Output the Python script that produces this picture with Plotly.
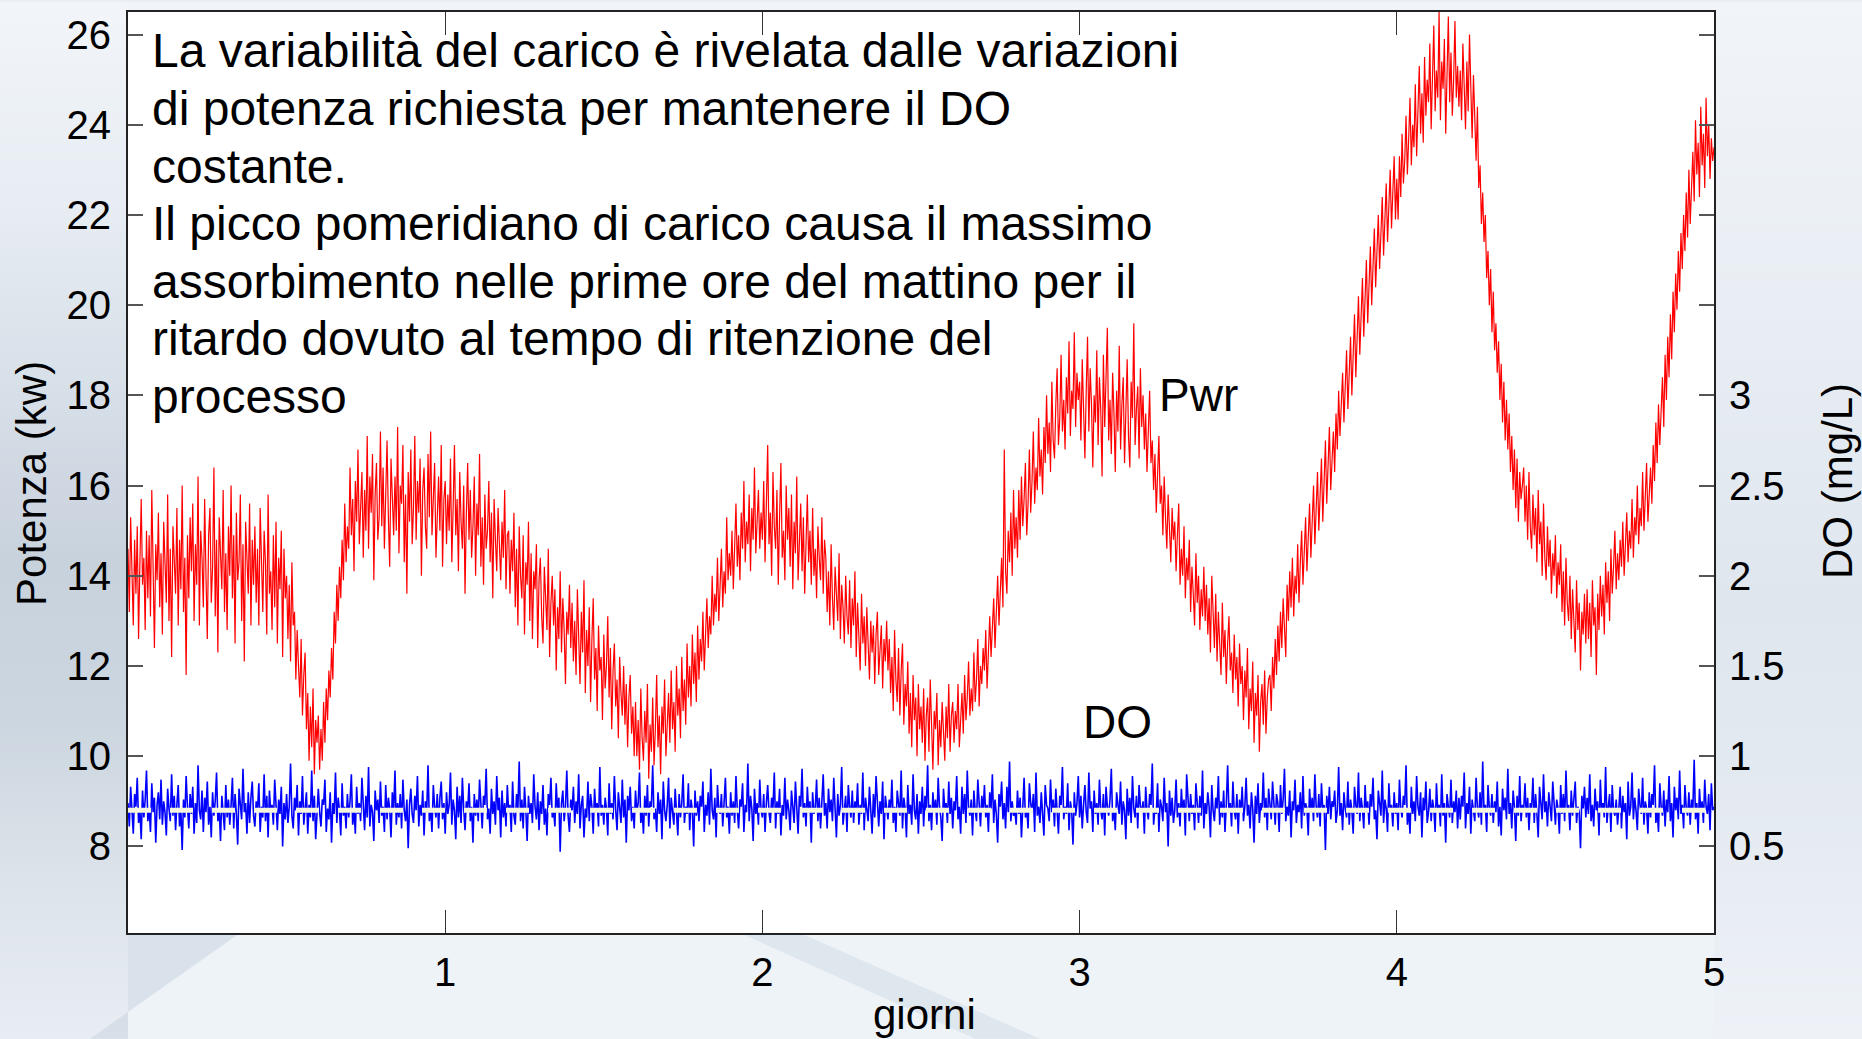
import numpy as np
import plotly.graph_objects as go

# ---------------------------------------------------------------------------
# Data: blower power (kW) and dissolved oxygen (mg/L), 240 samples per day
# ---------------------------------------------------------------------------
SAMPLES_PER_DAY = 240

power_kw = [
    14.6, 13.2, 15.3, 14.1, 12.9, 14.8, 13.6, 15.1, 12.6, 14.3, 15.7, 13.8, 14.4, 12.8, 15.0, 13.5, 14.9, 13.1, 15.9, 14.2, 12.4, 14.7, 13.9, 15.4,
    13.3, 14.5, 12.7, 15.2, 14.0, 13.4, 15.8, 13.0, 14.6, 12.2, 15.1, 14.3, 13.6, 15.5, 12.9, 14.8, 13.7, 16.0, 13.2, 14.4, 11.8, 14.9, 13.5, 15.3,
    14.1, 15.6, 13.0, 14.7, 13.8, 16.2, 12.9, 15.0, 14.4, 13.3, 15.7, 14.0, 12.6, 14.9, 15.5, 13.4, 14.2, 16.4, 13.1, 14.8, 12.3, 15.3, 14.6, 13.7,
    15.9, 13.2, 14.5, 12.8, 15.1, 14.0, 16.0, 13.5, 14.9, 12.5, 15.4, 13.9, 14.3, 15.8, 13.0, 14.7, 12.1, 15.2, 14.4, 13.6, 15.6, 12.9, 14.8, 13.8,
    15.1, 13.4, 14.6, 12.9, 15.5, 14.0, 13.2, 15.0, 14.3, 12.7, 15.8, 13.6, 14.1, 12.8, 14.9, 13.3, 15.2, 12.5, 14.4, 13.7, 15.0, 12.2, 14.6, 13.5,
    14.0, 12.6, 13.8, 12.1, 14.3, 12.9, 13.2, 11.7, 12.8, 12.0, 11.3, 12.6, 10.9, 11.8, 12.3, 10.6, 11.4, 9.9, 11.1, 10.2, 11.5, 9.6, 10.8, 10.3,
    10.9, 9.7, 10.6, 9.9, 11.2, 10.3, 11.5, 10.8, 11.9, 11.3, 12.4, 11.7, 13.2, 12.5, 13.8, 13.0, 14.2, 13.5, 14.8, 13.9, 15.6, 14.3, 15.1, 14.6,
    16.4, 14.9, 15.7, 14.1, 16.1, 15.2, 16.8, 14.7, 15.5, 16.3, 14.4, 15.9, 15.0, 17.1, 14.6, 16.2, 15.4, 16.7, 13.9, 15.8, 16.5, 14.8, 15.3, 17.2,
    15.1, 16.4, 14.6, 15.9, 17.0, 15.3, 14.2, 16.6, 15.7, 14.9, 16.2, 15.0, 17.3, 14.5, 16.0, 15.6, 16.9, 14.3, 15.8, 13.6, 16.3, 15.2, 16.8, 14.7,
    15.5, 17.1, 14.8, 16.1, 15.4, 16.6, 14.0, 15.9, 16.4, 15.1, 14.6, 16.7, 15.3, 17.2, 14.9, 15.8, 16.5, 14.4, 15.6, 16.2, 15.0, 16.9, 14.2, 15.7,
    16.1, 14.7, 15.8, 15.0, 16.6, 14.3, 15.5, 16.9, 14.9, 15.7, 14.1, 16.3, 15.2, 14.6, 16.0, 13.6, 15.4, 16.5, 14.8, 15.9, 14.4, 15.1, 16.2, 14.0,
    15.6, 14.9, 16.7, 14.2, 15.3, 13.8, 15.8, 14.6, 15.0, 16.1, 14.3, 15.4, 13.5, 15.7, 14.8, 14.1, 15.5, 14.7, 13.9, 15.2, 14.4, 15.9, 13.7, 14.9,
    15.0, 13.6, 14.8, 14.1, 15.4, 13.3, 14.6, 12.9, 15.1, 14.0, 13.5, 14.9, 12.7, 14.3, 13.8, 15.2, 13.0, 14.5, 12.6, 14.1, 13.7, 14.7, 12.4, 13.9,
    14.4, 13.1, 12.5, 14.2, 13.6, 12.8, 14.6, 12.2, 13.4, 14.0, 12.9, 13.7, 11.9, 13.3, 12.6, 14.1, 12.3, 13.5, 12.8, 11.6, 13.2, 12.7, 13.8, 12.4,
    13.4, 12.1, 13.0, 11.8, 13.7, 12.5, 11.6, 13.2, 12.3, 13.9, 11.4, 12.8, 12.0, 13.3, 11.2, 12.6, 13.5, 11.7, 12.4, 11.0, 12.9, 11.9, 12.2, 10.8,
    12.7, 11.5, 12.0, 13.1, 11.3, 12.4, 10.6, 11.9, 12.5, 11.1, 11.7, 10.4, 12.2, 11.4, 10.9, 12.0, 10.7, 11.6, 10.2, 11.3, 11.8, 10.5, 11.1, 10.0,
    11.2, 10.0, 10.8, 9.7, 11.5, 10.4, 9.9, 11.0, 10.3, 11.6, 9.5, 10.7, 10.1, 11.3, 9.8, 10.6, 11.8, 10.2, 10.9, 9.6, 11.1, 10.5, 11.7, 10.0,
    10.8, 11.4, 10.3, 11.9, 10.6, 11.2, 10.1, 12.0, 10.9, 11.5, 10.4, 12.2, 11.0, 11.7, 10.7, 12.5, 11.3, 12.0, 11.1, 12.7, 11.6, 12.3, 11.2, 12.9,
    11.7, 12.6, 12.1, 13.2, 11.9, 12.8, 13.5, 12.4, 13.1, 12.7, 14.0, 12.9, 13.6, 13.2, 14.4, 13.0, 13.8, 14.6, 13.3, 14.1, 13.6, 15.3, 13.9, 14.5,
    14.0, 15.0, 13.7, 14.8, 15.6, 14.2, 14.9, 13.9, 15.4, 14.6, 16.1, 14.3, 15.2, 14.7, 15.8, 14.1, 15.5, 14.8, 16.4, 14.5, 15.1, 15.9, 14.6, 15.4,
    14.8, 16.1, 14.3, 15.6, 16.9, 14.7, 15.4, 14.0, 16.3, 15.1, 14.6, 15.9, 13.8, 15.3, 16.5, 14.4, 15.0, 13.9, 16.0, 14.8, 15.5, 14.2, 15.8, 13.7,
    15.2, 14.5, 16.2, 13.9, 14.9, 15.6, 14.1, 15.3, 13.6, 14.7, 15.8, 14.3, 15.0, 13.8, 15.5, 14.0, 14.6, 13.5, 15.1, 14.4, 13.9, 15.3, 13.6, 14.8,
    14.4, 13.2, 14.1, 12.9, 14.7, 13.5, 12.8, 14.2, 13.6, 13.0, 14.5, 12.6, 13.8, 13.3, 12.5, 14.0, 13.1, 12.7, 13.9, 12.4, 13.5, 12.9, 14.1, 12.2,
    13.4, 12.8, 11.9, 13.6, 12.5, 13.1, 12.0, 13.3, 12.6, 11.7, 13.0, 12.3, 12.9, 11.6, 12.7, 13.2, 11.8, 12.4, 12.9, 11.5, 12.6, 12.1, 13.0, 11.9,
    12.6, 11.4, 12.2, 11.0, 12.8, 11.7, 11.2, 12.4, 10.9, 11.9, 12.5, 10.7, 11.6, 11.1, 12.1, 10.5, 11.4, 10.2, 11.8, 10.8, 11.3, 10.0, 11.6, 10.6,
    11.1, 10.3, 11.5, 9.9, 10.9, 11.3, 10.1, 11.7, 10.4, 9.7, 11.0, 10.6, 11.4, 9.8, 10.8, 10.2, 11.2, 10.5, 9.9, 11.1, 10.4, 11.6, 10.1, 10.9,
    11.2, 10.3, 11.0, 10.6, 11.6, 10.2, 10.9, 11.4, 10.5, 11.8, 10.8, 11.3, 12.1, 10.9, 11.5, 11.0, 12.3, 11.2, 11.7, 12.6, 11.1, 12.0, 11.6, 12.4,
    11.9, 12.8, 11.5, 12.5, 13.1, 12.2, 12.9, 13.5, 12.4, 13.2, 14.0, 12.9, 13.7, 14.4, 13.3, 16.8, 14.1, 13.6, 15.0, 14.3, 15.4, 14.0, 15.9, 14.6,
    15.3, 14.4, 15.9, 14.8, 16.2, 15.1, 15.7, 16.5, 14.9, 15.6, 16.8, 15.4, 16.1, 17.2, 15.6, 16.4, 15.9, 17.5, 16.2, 16.8, 15.8, 17.3, 16.5, 18.0,
    16.7, 17.4, 16.3, 18.3, 17.0, 16.6, 17.8, 18.6, 16.9, 17.5, 18.9, 17.2, 17.9, 16.8, 18.4, 17.6, 19.2, 17.1, 18.1, 17.7, 19.4, 17.3, 18.5, 17.9,
    18.3, 17.0, 18.8, 17.5, 16.6, 18.1, 19.3, 17.2, 18.6, 17.8, 16.4, 18.0, 17.4, 19.0, 16.9, 18.4, 17.7, 16.2, 18.9, 17.3, 18.2, 19.5, 17.0, 17.9,
    16.7, 18.5, 17.6, 16.3, 18.1, 17.2, 19.1, 16.8, 17.8, 18.4, 16.5, 17.6, 18.8, 17.1, 16.4, 18.3, 17.5, 19.6, 16.9, 17.7, 18.2, 16.6, 18.6, 17.3,
    18.0, 16.8, 17.6, 16.3, 17.2, 18.1, 16.5, 17.0, 15.9, 16.7, 15.4, 16.4, 17.1, 15.6, 16.0, 14.9, 16.2, 15.3, 14.6, 15.8, 15.0, 14.3, 15.5, 14.8,
    15.2, 14.1, 14.9, 15.6, 13.8, 14.6, 14.0, 15.1, 13.5, 14.4, 13.9, 14.8, 13.2, 14.2, 13.6, 12.9, 14.5, 13.4, 14.0, 12.8, 13.7, 13.1, 14.2, 13.0,
    13.8, 12.7, 13.5, 12.3, 14.0, 12.9, 12.4, 13.6, 12.1, 13.2, 12.6, 11.8, 13.4, 12.2, 12.8, 11.6, 12.5, 13.1, 11.9, 12.3, 11.4, 12.7, 11.7, 12.2,
    11.1, 12.5, 11.6, 12.0, 10.8, 11.9, 11.3, 12.4, 10.6, 11.5, 11.0, 12.1, 10.3, 11.4, 10.9, 11.8, 10.1, 11.2, 11.6, 10.7, 11.9, 10.5, 11.3, 11.7,
    11.8, 11.0, 12.2, 11.5, 12.6, 11.8, 12.9, 12.1, 13.2, 12.4, 13.5, 12.7, 12.2, 13.8, 13.0, 14.1, 13.3, 14.4, 13.1, 14.0, 13.6, 14.7, 13.4, 14.3,
    15.0, 13.8, 14.6, 15.3, 14.1, 14.9, 15.6, 14.4, 15.2, 16.0, 14.7, 15.5, 16.3, 15.0, 15.8, 16.6, 15.2, 16.1, 17.0, 15.6, 16.4, 17.3, 15.9, 16.8,
    17.2, 16.3, 17.6, 16.8, 18.1, 17.1, 17.8, 18.5, 17.4, 18.2, 19.0, 17.7, 18.6, 19.3, 18.0, 19.0, 19.8, 18.4, 19.4, 20.2, 18.9, 19.8, 20.6, 19.3,
    20.2, 21.0, 19.6, 20.5, 21.3, 20.0, 20.9, 21.7, 20.4, 21.2, 22.0, 20.8, 21.6, 22.4, 21.1, 21.9, 22.7, 21.4, 22.2, 23.0, 21.7, 22.5, 23.3, 21.9,
    22.8, 21.9, 23.3, 22.4, 23.8, 22.7, 23.2, 24.2, 22.9, 23.7, 24.6, 23.1, 24.0, 23.5, 24.9, 23.3, 24.4, 25.3, 23.8, 24.7, 23.6, 25.5, 24.2, 25.0,
    24.5, 25.8, 23.9, 24.8, 26.2, 24.3, 25.2, 24.6, 26.5, 24.1, 25.4, 24.8, 25.9, 23.8, 25.1, 26.4, 24.5, 25.6, 24.2, 25.0, 26.3, 24.6, 25.3, 24.4,
    25.2, 24.1, 25.8, 24.6, 23.9, 25.4, 24.3, 26.0, 24.8, 23.7, 25.1, 24.0, 23.2, 24.4, 22.6, 23.1, 21.8, 22.5, 21.4, 22.0, 20.6, 21.2, 20.0, 20.8,
    19.4, 20.3, 19.0, 19.6, 18.5, 19.2, 17.9, 18.7, 17.4, 18.3, 17.0, 17.9, 16.8, 17.6, 16.3, 17.1, 15.9, 16.8, 15.5, 16.6, 15.2, 16.3, 15.7, 16.0,
    16.4, 15.2, 16.0, 14.8, 16.3, 15.1, 14.6, 15.8, 14.9, 15.5, 14.3, 15.9, 14.7, 15.2, 14.0, 15.6, 14.4, 13.9, 15.1, 14.2, 14.8, 13.6, 14.5, 14.0,
    14.9, 13.5, 14.3, 13.8, 14.7, 13.2, 14.1, 12.9, 14.4, 13.4, 13.0, 14.0, 12.6, 13.7, 13.1, 12.3, 13.9, 12.8, 13.4, 11.9, 13.2, 12.7, 13.6, 12.5,
    13.7, 12.6, 13.4, 12.2, 13.9, 12.9, 13.3, 11.8, 13.6, 12.8, 14.0, 13.1, 13.8, 12.7, 14.3, 13.4, 14.1, 13.0, 14.6, 13.6, 14.2, 15.0, 13.7, 14.5,
    13.9, 14.8, 14.2, 15.2, 14.0, 14.7, 15.4, 14.3, 15.0, 14.6, 15.7, 14.4, 15.3, 14.9, 16.0, 14.7, 15.5, 15.1, 16.3, 15.0, 15.8, 16.5, 15.2, 16.0,
    16.4, 15.6, 16.9, 16.1, 17.4, 16.5, 17.8, 16.9, 17.6, 18.4, 17.3, 18.9, 17.9, 19.3, 18.4, 19.8, 18.8, 20.3, 19.4, 20.7, 19.9, 21.2, 20.3, 21.6,
    20.8, 22.0, 21.2, 22.5, 21.5, 23.0, 21.8, 22.6, 23.4, 22.3, 24.1, 22.9, 23.6, 22.4, 24.4, 23.1, 23.8, 22.6, 24.6, 23.3, 24.0, 22.8, 23.7, 23.2,
    23.5,
]

do_mgl = [
    0.74, 0.61, 0.83, 0.68, 0.57, 0.79, 0.72, 0.88, 0.63, 0.70, 0.54, 0.81, 0.66, 0.76, 0.92, 0.64, 0.71, 0.58, 0.85, 0.69, 0.77, 0.52, 0.73, 0.80,
    0.65, 0.87, 0.62, 0.75, 0.69, 0.56, 0.82, 0.71, 0.64, 0.90, 0.67, 0.78, 0.59, 0.73, 0.84, 0.61, 0.70, 0.48, 0.76, 0.66, 0.89, 0.72, 0.60, 0.79,
    0.68, 0.83, 0.57, 0.74, 0.63, 0.95, 0.70, 0.65, 0.81, 0.58, 0.77, 0.69, 0.86, 0.62, 0.72, 0.55, 0.80, 0.67, 0.75, 0.91, 0.64, 0.71, 0.53, 0.78,
    0.70, 0.59, 0.84, 0.66, 0.76, 0.62, 0.73, 0.88, 0.60, 0.79, 0.68, 0.51, 0.82, 0.71, 0.65, 0.93, 0.69, 0.74, 0.57, 0.80, 0.63, 0.77, 0.86, 0.67,
    0.61, 0.75, 0.70, 0.85, 0.58, 0.72, 0.66, 0.90, 0.64, 0.78, 0.55, 0.81, 0.69, 0.73, 0.62, 0.87, 0.71, 0.59, 0.76, 0.68, 0.83, 0.50, 0.74, 0.65,
    0.79, 0.63, 0.72, 0.96, 0.67, 0.60, 0.77, 0.70, 0.84, 0.56, 0.75, 0.68, 0.89, 0.62, 0.71, 0.80, 0.57, 0.73, 0.66, 0.92, 0.64, 0.78, 0.54, 0.70,
    0.82, 0.69, 0.61, 0.76, 0.73, 0.87, 0.58, 0.71, 0.65, 0.80, 0.52, 0.74, 0.68, 0.91, 0.63, 0.77, 0.70, 0.56, 0.85, 0.67, 0.72, 0.60, 0.79, 0.66,
    0.75, 0.90, 0.62, 0.70, 0.57, 0.83, 0.68, 0.74, 0.64, 0.88, 0.71, 0.59, 0.78, 0.66, 0.94, 0.61, 0.73, 0.69, 0.53, 0.81, 0.70, 0.76, 0.63, 0.86,
    0.67, 0.72, 0.58, 0.84, 0.65, 0.77, 0.71, 0.55, 0.80, 0.69, 0.92, 0.62, 0.74, 0.66, 0.79, 0.60, 0.87, 0.70, 0.64, 0.76, 0.49, 0.73, 0.82, 0.68,
    0.63, 0.78, 0.70, 0.89, 0.61, 0.73, 0.67, 0.81, 0.56, 0.75, 0.69, 0.95, 0.64, 0.71, 0.58, 0.84, 0.72, 0.66, 0.79, 0.60, 0.77, 0.86, 0.65, 0.74,
    0.57, 0.80, 0.68, 0.73, 0.91, 0.62, 0.76, 0.70, 0.54, 0.83, 0.66, 0.78, 0.63, 0.88, 0.71, 0.59, 0.75, 0.69, 0.85, 0.64, 0.72, 0.52, 0.79, 0.67,
    0.76, 0.64, 0.87, 0.70, 0.60, 0.78, 0.73, 0.93, 0.65, 0.71, 0.57, 0.82, 0.68, 0.75, 0.62, 0.89, 0.70, 0.77, 0.55, 0.81, 0.66, 0.74, 0.61, 0.84,
    0.69, 0.73, 0.58, 0.86, 0.67, 0.62, 0.79, 0.71, 0.97, 0.64, 0.76, 0.60, 0.83, 0.70, 0.53, 0.78, 0.68, 0.74, 0.63, 0.90, 0.72, 0.65, 0.80, 0.59,
    0.75, 0.68, 0.84, 0.62, 0.71, 0.56, 0.79, 0.73, 0.88, 0.66, 0.70, 0.61, 0.85, 0.69, 0.77, 0.47, 0.74, 0.81, 0.64, 0.72, 0.92, 0.67, 0.58, 0.76,
    0.70, 0.83, 0.63, 0.75, 0.68, 0.90, 0.60, 0.73, 0.78, 0.55, 0.71, 0.66, 0.86, 0.64, 0.79, 0.72, 0.57, 0.82, 0.69, 0.74, 0.61, 0.94, 0.67, 0.73,
    0.62, 0.77, 0.71, 0.56, 0.85, 0.68, 0.74, 0.65, 0.89, 0.70, 0.59, 0.80, 0.73, 0.63, 0.87, 0.66, 0.76, 0.52, 0.78, 0.70, 0.83, 0.64, 0.72, 0.60,
    0.81, 0.69, 0.74, 0.91, 0.63, 0.70, 0.57, 0.78, 0.67, 0.84, 0.61, 0.75, 0.72, 0.95, 0.65, 0.71, 0.58, 0.80, 0.68, 0.76, 0.54, 0.86, 0.70, 0.64,
    0.73, 0.88, 0.60, 0.77, 0.69, 0.62, 0.82, 0.71, 0.56, 0.79, 0.66, 0.74, 0.90, 0.63, 0.72, 0.68, 0.85, 0.59, 0.76, 0.70, 0.50, 0.81, 0.67, 0.75,
    0.64, 0.78, 0.72, 0.86, 0.58, 0.73, 0.67, 0.80, 0.62, 0.93, 0.70, 0.65, 0.77, 0.55, 0.84, 0.71, 0.68, 0.79, 0.61, 0.74, 0.88, 0.66, 0.72, 0.57,
    0.80, 0.67, 0.75, 0.63, 0.89, 0.70, 0.60, 0.76, 0.72, 0.85, 0.58, 0.73, 0.69, 0.96, 0.64, 0.78, 0.71, 0.53, 0.82, 0.68, 0.74, 0.62, 0.87, 0.70,
    0.66, 0.79, 0.58, 0.74, 0.84, 0.69, 0.63, 0.77, 0.71, 0.91, 0.60, 0.75, 0.68, 0.82, 0.56, 0.73, 0.67, 0.88, 0.65, 0.76, 0.70, 0.59, 0.81, 0.72,
    0.63, 0.86, 0.70, 0.57, 0.78, 0.72, 0.93, 0.66, 0.74, 0.61, 0.83, 0.69, 0.75, 0.52, 0.80, 0.68, 0.71, 0.87, 0.64, 0.77, 0.60, 0.73, 0.90, 0.67,
    0.74, 0.60, 0.82, 0.69, 0.76, 0.64, 0.88, 0.71, 0.55, 0.79, 0.67, 0.73, 0.94, 0.62, 0.70, 0.78, 0.58, 0.84, 0.72, 0.66, 0.81, 0.63, 0.75, 0.69,
    0.85, 0.62, 0.73, 0.68, 0.91, 0.59, 0.77, 0.70, 0.64, 0.83, 0.72, 0.57, 0.79, 0.66, 0.89, 0.71, 0.61, 0.75, 0.68, 0.86, 0.54, 0.78, 0.70, 0.65,
    0.76, 0.69, 0.87, 0.63, 0.72, 0.58, 0.81, 0.74, 0.67, 0.92, 0.60, 0.77, 0.71, 0.55, 0.84, 0.68, 0.73, 0.62, 0.90, 0.70, 0.65, 0.79, 0.57, 0.75,
    0.68, 0.83, 0.61, 0.78, 0.70, 0.95, 0.64, 0.73, 0.59, 0.80, 0.69, 0.76, 0.62, 0.88, 0.72, 0.66, 0.53, 0.82, 0.71, 0.74, 0.63, 0.86, 0.68, 0.77,
    0.60, 0.75, 0.70, 0.89, 0.65, 0.72, 0.57, 0.83, 0.68, 0.79, 0.63, 0.92, 0.71, 0.67, 0.76, 0.56, 0.81, 0.70, 0.64, 0.87, 0.73, 0.61, 0.78, 0.69,
    0.84, 0.66, 0.73, 0.58, 0.80, 0.71, 0.90, 0.63, 0.76, 0.68, 0.52, 0.79, 0.72, 0.86, 0.65, 0.74, 0.60, 0.83, 0.69, 0.97, 0.64, 0.75, 0.67, 0.70,
    0.62, 0.81, 0.68, 0.77, 0.55, 0.73, 0.88, 0.66, 0.71, 0.60, 0.85, 0.74, 0.69, 0.79, 0.58, 0.91, 0.67, 0.72, 0.63, 0.80, 0.70, 0.56, 0.84, 0.73,
    0.71, 0.64, 0.87, 0.69, 0.76, 0.61, 0.82, 0.70, 0.57, 0.78, 0.73, 0.94, 0.65, 0.72, 0.68, 0.85, 0.59, 0.75, 0.70, 0.51, 0.80, 0.67, 0.74, 0.89,
    0.66, 0.78, 0.60, 0.73, 0.84, 0.69, 0.63, 0.91, 0.71, 0.75, 0.58, 0.81, 0.68, 0.74, 0.62, 0.87, 0.70, 0.65, 0.79, 0.56, 0.83, 0.72, 0.67, 0.76,
    0.93, 0.64, 0.71, 0.59, 0.80, 0.73, 0.68, 0.86, 0.62, 0.75, 0.70, 0.54, 0.82, 0.67, 0.77, 0.63, 0.89, 0.71, 0.66, 0.78, 0.60, 0.84, 0.72, 0.69,
    0.75, 0.57, 0.83, 0.70, 0.65, 0.79, 0.73, 0.96, 0.62, 0.71, 0.68, 0.85, 0.58, 0.76, 0.72, 0.64, 0.88, 0.69, 0.74, 0.50, 0.81, 0.67, 0.77, 0.63,
    0.70, 0.87, 0.66, 0.74, 0.61, 0.82, 0.69, 0.76, 0.56, 0.90, 0.72, 0.64, 0.79, 0.68, 0.73, 0.59, 0.85, 0.71, 0.63, 0.78, 0.67, 0.92, 0.60, 0.74,
    0.68, 0.80, 0.72, 0.55, 0.84, 0.70, 0.64, 0.77, 0.71, 0.89, 0.62, 0.75, 0.66, 0.81, 0.58, 0.73, 0.95, 0.69, 0.74, 0.61, 0.86, 0.70, 0.65, 0.79,
    0.57, 0.76, 0.69, 0.83, 0.64, 0.72, 0.88, 0.67, 0.73, 0.60, 0.80, 0.71, 0.52, 0.78, 0.68, 0.85, 0.63, 0.74, 0.70, 0.91, 0.66, 0.77, 0.59, 0.82,
    0.71, 0.65, 0.86, 0.70, 0.62, 0.79, 0.74, 0.58, 0.84, 0.68, 0.76, 0.93, 0.64, 0.72, 0.67, 0.81, 0.55, 0.75, 0.70, 0.87, 0.63, 0.73, 0.69, 0.80,
    0.60, 0.89, 0.67, 0.74, 0.71, 0.56, 0.82, 0.69, 0.77, 0.64, 0.90, 0.72, 0.66, 0.79, 0.61, 0.85, 0.70, 0.73, 0.48, 0.78, 0.68, 0.83, 0.65, 0.75,
    0.72, 0.81, 0.63, 0.70, 0.94, 0.67, 0.74, 0.59, 0.80, 0.71, 0.66, 0.86, 0.62, 0.76, 0.70, 0.57, 0.83, 0.73, 0.68, 0.91, 0.64, 0.77, 0.71, 0.60,
    0.84, 0.69, 0.75, 0.62, 0.79, 0.72, 0.88, 0.65, 0.70, 0.54, 0.81, 0.74, 0.67, 0.92, 0.63, 0.76, 0.71, 0.58, 0.85, 0.69, 0.73, 0.61, 0.80, 0.68,
    0.74, 0.59, 0.87, 0.71, 0.66, 0.78, 0.73, 0.95, 0.62, 0.70, 0.57, 0.83, 0.68, 0.75, 0.64, 0.89, 0.72, 0.67, 0.80, 0.55, 0.77, 0.70, 0.86, 0.63,
    0.69, 0.82, 0.64, 0.76, 0.71, 0.58, 0.85, 0.70, 0.73, 0.61, 0.90, 0.67, 0.74, 0.52, 0.79, 0.72, 0.66, 0.87, 0.63, 0.75, 0.69, 0.81, 0.60, 0.77,
    0.65, 0.78, 0.72, 0.91, 0.60, 0.74, 0.68, 0.83, 0.57, 0.76, 0.70, 0.64, 0.88, 0.71, 0.66, 0.80, 0.62, 0.97, 0.69, 0.73, 0.58, 0.84, 0.71, 0.67,
    0.79, 0.63, 0.75, 0.69, 0.86, 0.61, 0.72, 0.56, 0.82, 0.70, 0.77, 0.65, 0.93, 0.68, 0.74, 0.60, 0.81, 0.72, 0.53, 0.78, 0.67, 0.89, 0.64, 0.73,
    0.70, 0.85, 0.66, 0.77, 0.59, 0.74, 0.71, 0.88, 0.63, 0.79, 0.68, 0.55, 0.83, 0.72, 0.65, 0.90, 0.69, 0.75, 0.61, 0.80, 0.73, 0.64, 0.86, 0.70,
    0.62, 0.76, 0.71, 0.57, 0.84, 0.68, 0.79, 0.64, 0.92, 0.70, 0.73, 0.59, 0.81, 0.67, 0.75, 0.86, 0.63, 0.72, 0.69, 0.49, 0.78, 0.71, 0.83, 0.66,
    0.77, 0.68, 0.90, 0.64, 0.73, 0.61, 0.82, 0.70, 0.75, 0.56, 0.87, 0.69, 0.74, 0.66, 0.94, 0.63, 0.72, 0.79, 0.58, 0.84, 0.70, 0.67, 0.76, 0.62,
    0.71, 0.83, 0.60, 0.78, 0.69, 0.74, 0.54, 0.86, 0.67, 0.72, 0.91, 0.65, 0.77, 0.70, 0.59, 0.82, 0.73, 0.68, 0.88, 0.62, 0.75, 0.71, 0.57, 0.80,
    0.66, 0.79, 0.73, 0.95, 0.63, 0.70, 0.58, 0.85, 0.72, 0.67, 0.81, 0.61, 0.76, 0.69, 0.89, 0.64, 0.74, 0.55, 0.83, 0.70, 0.77, 0.65, 0.92, 0.68,
    0.73, 0.60, 0.84, 0.71, 0.67, 0.80, 0.62, 0.76, 0.70, 0.98, 0.65, 0.74, 0.57, 0.82, 0.69, 0.75, 0.63, 0.87, 0.72, 0.68, 0.79, 0.59, 0.85, 0.70,
    0.72,
]

do_setpoint = 0.7           # mg/L, control target
day_ticks = [1, 2, 3, 4, 5]
power_ticks = [8, 10, 12, 14, 16, 18, 20, 22, 24, 26]
do_ticks = [0.5, 1, 1.5, 2, 2.5, 3]
do_tick_text = ["0.5", "1", "1.5", "2", "2.5", "3"]

note_lines = [
    "La variabilità del carico è rivelata dalle variazioni",
    "di potenza richiesta per mantenere il DO",
    "costante.",
    "Il picco pomeridiano di carico causa il massimo",
    "assorbimento nelle prime ore del mattino per il",
    "ritardo dovuto al tempo di ritenzione del",
    "processo",
]

t_power = np.arange(len(power_kw)) / SAMPLES_PER_DAY
t_do = np.arange(len(do_mgl)) / SAMPLES_PER_DAY

# ---------------------------------------------------------------------------
# Page geometry (pixels)
# ---------------------------------------------------------------------------
W, H = 1862, 1039
PL, PR, PT, PB = 128, 1714, 10, 933
PW, PH = PR - PL, PB - PT
FONT = "Liberation Sans, Arial, sans-serif"


def px(xpix):
    return (xpix - PL) / PW


def py(ypix):
    return (PB - ypix) / PH


def hex_rgb(c):
    c = c.lstrip("#")
    return [int(c[i:i + 2], 16) for i in (0, 2, 4)]


def vertical_gradient(x0, x1, stops, step=8):
    """Thin rectangles that shade a margin strip from top to bottom."""
    out = []
    ys = [s[0] for s in stops]
    cols = np.array([hex_rgb(s[1]) for s in stops], dtype=float)
    y = ys[0]
    while y < ys[-1]:
        y2 = min(y + step, ys[-1])
        mid = (y + y2) / 2
        rgb = [np.interp(mid, ys, cols[:, k]) for k in range(3)]
        col = "rgb({:.0f},{:.0f},{:.0f})".format(*rgb)
        out.append(dict(type="rect", xref="paper", yref="paper", layer="below",
                        x0=px(x0), x1=px(x1), y0=py(y2 + 0.5), y1=py(y),
                        fillcolor=col, line=dict(width=0)))
        y = y2
    return out


fig = go.Figure()

fig.add_trace(go.Scatter(
    x=t_power, y=power_kw, mode="lines", name="Pwr",
    line=dict(color="#ff0000", width=1.2), yaxis="y", hoverinfo="skip",
))
fig.add_trace(go.Scatter(
    x=t_do, y=do_mgl, mode="lines", name="DO",
    line=dict(color="#0000ff", width=1.6), yaxis="y2", hoverinfo="skip",
))
fig.add_trace(go.Scatter(
    x=[t_do[0], t_do[-1]], y=[do_setpoint, do_setpoint], mode="lines",
    line=dict(color="#f4f5dc", width=5, dash="23px,19px"), yaxis="y2",
    hoverinfo="skip",
))

# slide-style background in the margins around the plot box
bg = []
bg += vertical_gradient(0, PL, [
    (0, "#f2f5f9"), (200, "#e7edf3"), (400, "#d6dee7"), (560, "#c8d2dd"),
    (720, "#ccd6e0"), (880, "#dce3ea"), (1039, "#e8edf3"),
])
bg += vertical_gradient(PR, W, [
    (0, "#f1f4f8"), (300, "#e9eef4"), (600, "#dfe6ee"), (800, "#e4eaf1"),
    (1039, "#eef2f7"),
])
bg.append(dict(type="rect", xref="paper", yref="paper", layer="below",
               x0=px(PL), x1=px(PR), y0=py(H), y1=py(PB),
               fillcolor="#eef3f8", line=dict(width=0)))
bg.append(dict(type="rect", xref="paper", yref="paper", layer="below",
               x0=px(PL), x1=px(PR), y0=py(PT), y1=py(0),
               fillcolor="#f1f5f9", line=dict(width=0)))
# darker wedge continuing the left shading under the x axis
bg.append(dict(type="path", xref="paper", yref="paper", layer="below",
               path=(f"M {px(PL)},{py(PB)} L {px(240)},{py(PB)} "
                     f"L {px(90)},{py(H)} L {px(PL)},{py(H)} Z"),
               fillcolor="rgba(200,211,222,0.55)", line=dict(width=0)))
# soft diagonal streak under the x axis
bg.append(dict(type="path", xref="paper", yref="paper", layer="below",
               path=(f"M {px(740)},{py(PB)} L {px(800)},{py(PB)} "
                     f"L {px(1040)},{py(H)} L {px(975)},{py(H)} Z"),
               fillcolor="rgba(175,190,205,0.22)", line=dict(width=0)))

annotations = []
line_step = 57.7
for i, txt in enumerate(note_lines):
    annotations.append(dict(
        text=txt, xref="paper", yref="paper", x=px(150), y=py(49 + i * line_step),
        xanchor="left", yanchor="middle", showarrow=False,
        font=dict(family=FONT, size=48, color="#000000"),
    ))
annotations += [
    dict(text="Pwr", xref="x", yref="y", x=3.245, y=18.0, xanchor="left",
         yanchor="middle", showarrow=False, font=dict(family=FONT, size=46, color="#000")),
    dict(text="DO", xref="x", yref="y", x=3.005, y=10.76, xanchor="left",
         yanchor="middle", showarrow=False, font=dict(family=FONT, size=46, color="#000")),
    dict(text="Potenza (kw)", xref="paper", yref="paper", x=px(32), y=py(483),
         textangle=-90, showarrow=False, xanchor="center", yanchor="middle",
         font=dict(family=FONT, size=42, color="#000")),
    dict(text="DO (mg/L)", xref="paper", yref="paper", x=px(1838), y=py(480),
         textangle=-90, showarrow=False, xanchor="center", yanchor="middle",
         font=dict(family=FONT, size=42, color="#000")),
    dict(text="giorni", xref="paper", yref="paper", x=px(924), y=py(1015),
         showarrow=False, xanchor="center", yanchor="middle",
         font=dict(family=FONT, size=42, color="#000")),
]

axis_font = dict(family=FONT, size=40, color="#000000")

fig.update_layout(
    width=W, height=H,
    margin=dict(l=PL, r=W - PR, t=PT, b=H - PB, pad=0),
    paper_bgcolor="#e8eef4",
    plot_bgcolor="#ffffff",
    showlegend=False,
    shapes=bg,
    annotations=annotations,
    xaxis=dict(
        range=[0, 5], tickvals=day_ticks, ticks="inside", ticklen=23,
        tickcolor="#333", tickwidth=1.2, showline=True, linecolor="#222",
        linewidth=2, mirror="ticks", showgrid=False, zeroline=False,
        tickfont=axis_font, ticklabelstandoff=3,
    ),
    yaxis=dict(
        range=[6.08, 26.5], tickvals=power_ticks, ticks="inside", ticklen=15,
        tickcolor="#555", tickwidth=1.5, showline=True, linecolor="#222",
        linewidth=2, mirror="ticks", showgrid=False, zeroline=False,
        tickfont=axis_font, ticklabelstandoff=7,
    ),
    yaxis2=dict(
        overlaying="y", side="right", range=[0.02, 5.125],
        tickvals=do_ticks, ticktext=do_tick_text, ticks="inside", ticklen=15,
        tickcolor="#555", tickwidth=1.5, showline=False, showgrid=False,
        zeroline=False, tickfont=axis_font, ticklabelstandoff=14,
    ),
)

fig.write_html("out.html", include_plotlyjs=True)
